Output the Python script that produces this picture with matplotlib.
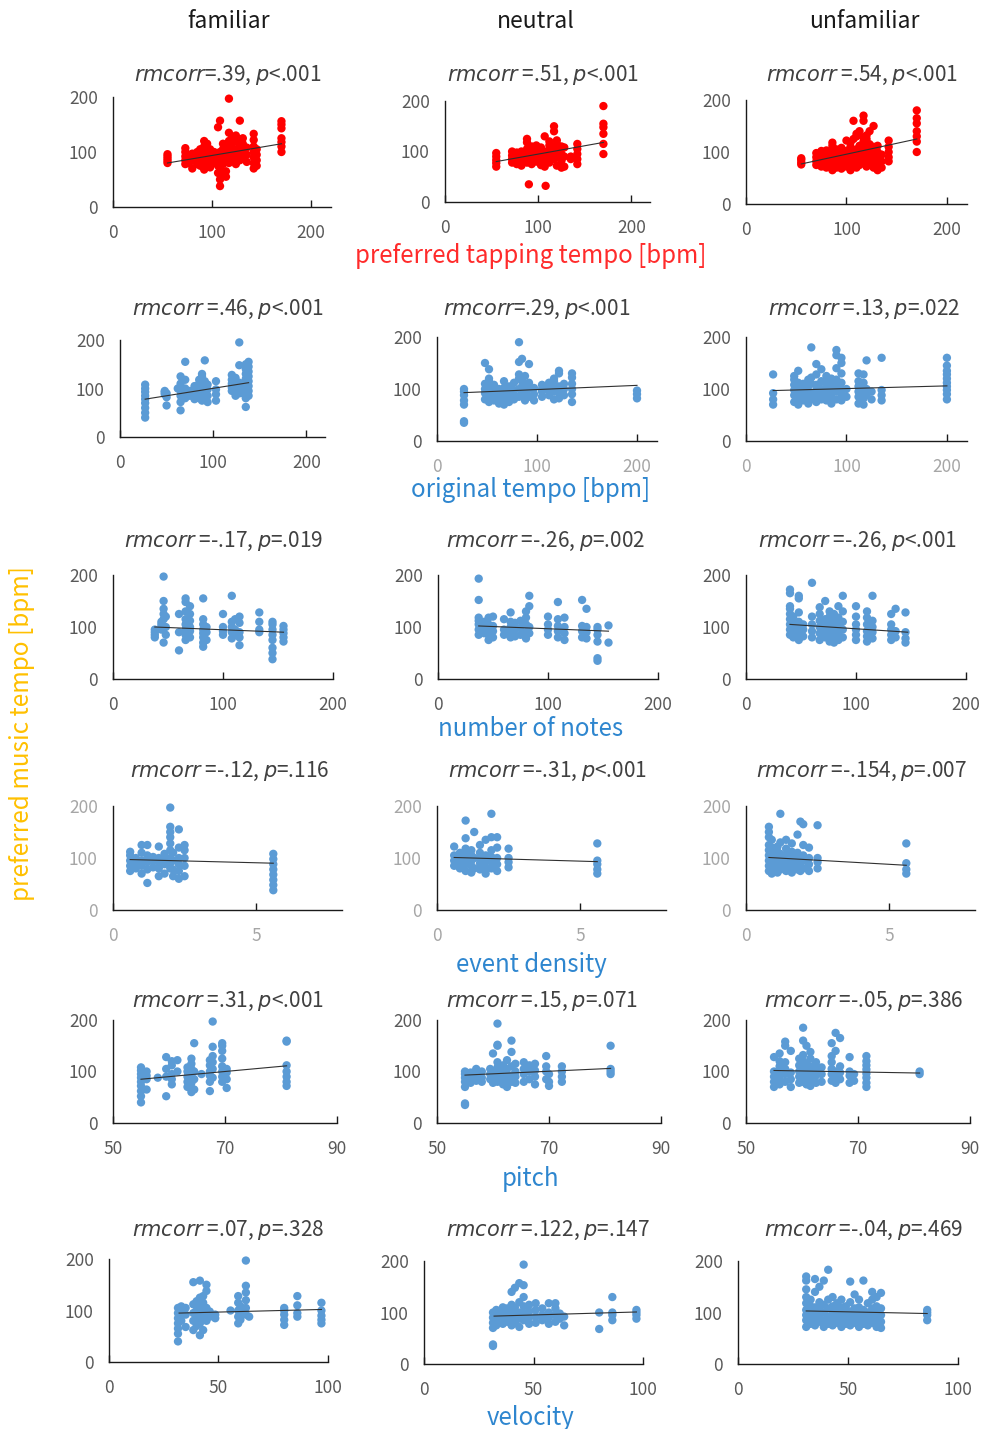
import matplotlib
matplotlib.use('Agg')
import matplotlib.pyplot as plt

plt.rcParams['font.family'] = ['Noto Sans CJK JP', 'DejaVu Sans']
plt.rcParams['mathtext.fontset'] = 'dejavusans'

# [1. text and axis settings]
columns = ['familiar', 'neutral', 'unfamiliar']
features = ['preferred tapping tempo [bpm]', 'original tempo [bpm]', 'number of notes',
            'event density', 'pitch', 'velocity']
feature_colors = ['#FF2B2B', '#2E86CF', '#2E86CF', '#2E86CF', '#2E86CF', '#2E86CF']
point_colors = ['#FF0000', '#5B9BD5', '#5B9BD5', '#5B9BD5', '#5B9BD5', '#5B9BD5']
x_ticks = [[0, 100, 200], [0, 100, 200], [0, 100, 200], [0, 5], [50, 70, 90], [0, 50, 100]]
x_limits = [(0, 220), (0, 220), (0, 200), (0, 8), (50, 90), (0, 100)]
y_ticks = [0, 100, 200]

r_text = [['=.39', ' =.51', ' =.54'],
          [' =.46', '=.29', ' =.13'],
          [' =-.17', ' =-.26', ' =-.26'],
          [' =-.12', ' =-.31', ' =-.154'],
          [' =.31', ' =.15', ' =-.05'],
          [' =.07', ' =.122', ' =-.04']]
p_text = [['<.001', '<.001', '<.001'],
          ['<.001', '<.001', '=.022'],
          ['=.019', '=.002', '<.001'],
          ['=.116', '<.001', '=.007'],
          ['<.001', '=.071', '=.386'],
          ['=.328', '=.147', '=.469']]

# [2. data: (x, [preferred music tempo values])]
tap_fam = [
    (55, [80, 84, 88, 92, 96]), (73, [78, 85, 92, 100, 107]), (76, [80, 88, 95]),
    (80, [70, 84, 90, 97]), (85, [78, 85, 92, 100]), (88, [75, 82, 90, 97, 105]),
    (92, [68, 75, 85, 95, 110, 120]), (95, [80, 88, 100, 115]), (98, [72, 85, 95, 105]),
    (102, [80, 90, 100]), (106, [62, 75, 88, 98, 145]), (108, [38, 50, 60, 72, 85, 100, 157]),
    (111, [78, 90, 105, 115]), (114, [55, 65, 85, 100, 112]), (117, [80, 95, 108, 120, 135, 197]),
    (120, [85, 100, 115, 125]), (124, [78, 92, 105, 120, 130]), (128, [85, 100, 110, 157]),
    (131, [88, 100, 115, 125]), (135, [82, 95, 108]), (142, [70, 80, 90, 100, 110, 122, 133]),
    (145, [75, 85, 95, 105]), (170, [100, 110, 118, 125, 143, 150, 156]),
]
tap_neu = [
    (55, [70, 77, 83, 90, 97]), (72, [78, 85, 92, 100]), (77, [75, 83, 90, 98]),
    (82, [72, 80, 88, 95, 100]), (88, [78, 85, 95, 105, 118, 125]), (90, [35]),
    (93, [75, 82, 90, 100, 110]), (98, [80, 88, 95, 105, 112]), (103, [73, 85, 95, 108]),
    (107, [70, 80, 92, 100, 130]), (108, [32]), (112, [78, 90, 100, 112, 120]),
    (117, [85, 95, 105, 140, 150]), (120, [72, 88, 100, 115, 122]), (125, [68, 82, 95, 110]),
    (128, [70, 90, 108]), (135, [85, 90]), (142, [75, 85, 95, 105, 115]),
    (170, [95, 115, 135, 148, 155, 190]),
]
tap_unf = [
    (55, [76, 80, 85, 88]), (70, [75, 82, 90, 98]), (75, [72, 80, 88, 95, 102]),
    (80, [70, 78, 86, 95, 103]), (86, [65, 73, 82, 90, 100, 112, 118]), (90, [70, 78, 88, 96, 105]),
    (95, [68, 76, 85, 95, 108]), (100, [72, 82, 92, 102, 122]), (104, [65, 75, 88, 98, 110, 118]),
    (107, [72, 85, 100, 125, 160]), (110, [70, 80, 92, 105, 130, 135]), (113, [75, 88, 100, 112, 140]),
    (117, [80, 95, 108, 120, 128, 160, 170]), (120, [72, 85, 98, 110, 125, 132]),
    (123, [78, 90, 102, 115, 140]), (127, [70, 85, 95, 110, 150]), (131, [65, 78, 90, 100, 112]),
    (135, [70, 82, 95]), (142, [82, 90, 100, 110, 122]), (170, [100, 120, 130, 140, 155, 165, 180]),
]

orig_fam = [
    (27, [40, 50, 60, 70, 78, 85, 93, 100, 108]), (48, [88, 92, 95]), (50, [65, 82, 90]),
    (62, [100]), (65, [55, 72, 85, 95, 110, 125]), (70, [80, 92, 100, 118, 155]), (75, [85, 95]),
    (80, [78, 88, 96, 105]), (85, [80, 90, 98, 110, 118]), (88, [75, 85, 95, 105, 125, 130]),
    (91, [80, 92, 100, 115, 158]), (94, [72, 85, 98, 108]), (103, [75, 88, 98, 115]),
    (120, [95, 102, 110, 118, 128]), (124, [85, 100, 108, 122]), (128, [90, 100, 112, 148, 195]),
    (132, [90, 100, 110]), (135, [62, 80, 90, 100, 110, 120, 130, 140, 150]),
    (138, [85, 95, 105, 115, 125, 135, 145, 155]),
]
orig_neu = [
    (27, [35, 38, 70, 78, 88, 95, 100]), (48, [80, 92, 100, 110, 150]),
    (52, [75, 85, 95, 105, 115, 120, 138]), (57, [78, 88, 98, 108]), (62, [72, 82, 92, 100]),
    (67, [70, 80, 90, 102, 115]), (72, [75, 85, 95, 105]), (77, [80, 88, 98, 112]),
    (82, [85, 100, 120, 128, 152, 190]), (85, [90, 105, 115, 158]), (88, [78, 95, 108, 125]),
    (92, [85, 100, 112, 148]), (97, [78, 90, 102]), (105, [85, 95, 100, 108]),
    (112, [88, 98, 105, 112]), (117, [80, 95, 100, 115, 120]), (122, [82, 92, 105, 130, 135]),
    (127, [88, 100, 110]), (135, [75, 90, 100, 110, 122, 130]), (200, [82, 90, 97]),
]
orig_unf = [
    (27, [70, 80, 92, 128]), (48, [75, 88, 98, 108, 118, 125]), (52, [70, 82, 92, 102, 112, 135]),
    (57, [78, 90, 100, 110]), (62, [72, 85, 95, 105, 118]), (65, [80, 92, 110, 122, 180]),
    (70, [75, 88, 98, 108, 128, 148]), (75, [80, 92, 100, 115, 138]), (80, [78, 90, 102, 112, 125]),
    (85, [72, 85, 98, 108, 120]), (90, [80, 95, 105, 118, 140, 165, 175]),
    (95, [78, 90, 100, 112, 130, 150, 160]), (100, [85, 100]), (112, [72, 85, 95, 105, 115, 130]),
    (117, [70, 82, 92, 102, 112, 128]), (120, [88, 100, 155]), (125, [80, 95]),
    (135, [78, 88, 98, 160]), (200, [80, 90, 98, 105, 112, 120, 128, 135, 145, 160]),
]

notes_fam = [
    (38, [80, 85, 90, 95]), (44, [95, 100, 105, 110]), (46, [70, 115, 125, 135, 150, 197]),
    (48, [85, 100, 120]), (60, [55, 90, 125]), (66, [75, 85, 95, 105, 115, 130, 148, 155]),
    (70, [80, 92, 100, 112, 125, 140]), (82, [62, 70, 80, 88, 95, 105, 115, 155]),
    (85, [75, 90, 100]), (100, [85, 92, 100, 125]), (108, [78, 90, 100, 110, 160]),
    (111, [85, 95, 115]), (115, [65, 80, 90, 108, 120]), (133, [90, 95, 110, 128]),
    (145, [38, 50, 60, 75, 85, 95, 105, 110]), (155, [72, 80, 88, 95, 102]),
]
notes_neu = [
    (37, [85, 95, 105, 112, 118, 152, 193]), (42, [88, 98, 110]), (46, [75, 85, 95, 105, 118]),
    (50, [80, 92, 102, 120]), (60, [85, 95, 115]), (66, [80, 90, 100, 110, 128]),
    (70, [82, 95, 108]), (75, [85, 98, 112]), (80, [78, 90, 105, 118, 130]),
    (83, [88, 100, 140, 160]), (100, [85, 95, 105, 120]), (109, [80, 92, 102, 115, 148]),
    (115, [75, 88, 100, 118]), (131, [80, 92, 102, 152]), (135, [78, 90, 100, 135]),
    (145, [35, 40, 72, 85, 95, 100]), (155, [70, 103]),
]
notes_unf = [
    (40, [85, 95, 105, 115, 125, 135, 140, 165, 172]), (43, [80, 90, 100, 110, 120]),
    (48, [75, 88, 98, 110, 128, 155, 160]), (52, [82, 95, 105]), (60, [80, 92, 105, 120, 185]),
    (67, [75, 88, 100, 112, 125, 138]), (72, [80, 92, 102, 115, 150]),
    (76, [72, 85, 95, 108, 120, 130]), (80, [70, 80, 90, 100, 110, 125]),
    (84, [75, 88, 98, 108, 118, 140]), (88, [80, 95, 110, 130, 160]),
    (100, [75, 85, 95, 105, 120, 140]), (110, [72, 82, 92, 105, 118, 130]),
    (115, [78, 90, 100, 112, 160]), (132, [75, 85, 95, 105, 125]), (136, [80, 92, 135]),
    (145, [70, 78, 90, 128]),
]

density_fam = [
    (0.6, [75, 85, 95, 105, 112]), (0.8, [80, 90, 100]), (1.0, [70, 85, 95, 110, 125]),
    (1.2, [52, 78, 92, 105, 125]), (1.4, [82, 95, 102]), (1.6, [65, 80, 92, 100, 122]),
    (1.8, [70, 88, 98, 108]), (2.0, [80, 90, 100, 115, 128, 140, 150, 160, 197]),
    (2.1, [65, 78, 95, 110]), (2.3, [60, 75, 88, 100, 120, 155]), (2.5, [65, 85, 100, 115, 125]),
    (5.6, [38, 48, 58, 68, 78, 88, 98, 108]),
]
density_neu = [
    (0.6, [85, 95, 105, 122]), (0.8, [80, 92, 100, 110]), (1.0, [75, 88, 98, 108, 118, 138, 172]),
    (1.2, [72, 85, 95, 105, 115]), (1.3, [80, 100, 150]), (1.5, [78, 90, 100, 110, 125]),
    (1.7, [70, 82, 95, 105, 135]), (1.9, [80, 92, 102, 115, 140, 185]),
    (2.1, [75, 88, 100, 120, 140]), (2.5, [82, 92, 100, 118]), (5.6, [70, 78, 88, 95, 128]),
]
density_unf = [
    (0.8, [75, 85, 95, 105, 115, 125, 140, 150, 160]), (0.9, [70, 80, 90, 100, 110, 120, 135]),
    (1.1, [72, 82, 92, 102, 112, 122]), (1.2, [78, 88, 98, 108, 130, 185]),
    (1.4, [75, 85, 95, 105, 118, 135]), (1.6, [72, 82, 92, 102, 112, 128]),
    (1.8, [78, 90, 100, 110, 145]), (1.9, [75, 88, 98, 170]), (2.0, [80, 95, 105, 125, 165]),
    (2.2, [75, 88, 100, 120]), (2.5, [80, 92, 100, 163]), (5.6, [70, 78, 90, 128]),
]

pitch_fam = [
    (55, [40, 52, 62, 72, 80, 88, 95, 102, 108]), (56, [65, 85, 92, 100]), (58, [88]),
    (59.5, [52, 90, 105, 128]), (60.5, [75, 85, 95, 112, 120]), (61.5, [100, 122]),
    (63.3, [70, 80, 90, 100, 108]), (64, [60, 68, 78, 88, 95, 105, 115, 125]),
    (64.5, [65, 85, 100, 155]), (65.8, [95]), (67.3, [62, 80, 92, 100, 112, 122]),
    (67.8, [88, 105, 118, 130, 148, 197]), (69.5, [80, 90, 100, 110, 125, 140, 150, 155]),
    (70.3, [68, 85, 98, 105]), (81, [72, 80, 90, 100, 112, 158, 160]),
]
pitch_neu = [
    (55, [35, 38, 70, 80, 88, 95, 100]), (56, [78, 90, 98]), (57, [82, 95, 105]),
    (58, [80, 88, 100]), (59.5, [85, 95, 105]), (60, [78, 90, 100, 135]),
    (60.8, [80, 95, 108, 118, 150, 152, 193]), (61.8, [75, 88, 100, 112]),
    (62.5, [70, 85, 95, 105, 122]), (63.3, [80, 92, 110, 138, 160]), (64, [78, 90, 100, 115]),
    (65.5, [80, 95, 105, 118]), (66.5, [85, 100, 112]), (67.5, [75, 90, 102, 115]),
    (69.5, [85, 100, 110, 130]), (70, [72, 80, 95]), (72.3, [80, 90, 100, 110]),
    (81, [95, 100, 105, 150]),
]
pitch_unf = [
    (55, [70, 80, 90, 100, 128]), (56, [75, 88, 100, 110, 120, 135]),
    (57, [80, 95, 105, 118, 150, 158]), (58, [70, 85, 98, 140]), (59.5, [78, 90, 100, 112, 125]),
    (60.2, [80, 95, 108, 120, 132, 160, 185]), (60.8, [75, 88, 100, 115, 150]),
    (61.5, [72, 85, 98, 110, 125, 138]), (62.5, [78, 92, 105, 118]), (63.5, [80, 95, 108]),
    (65.3, [82, 95, 105, 118, 130, 155]), (66, [78, 92, 100, 140, 175]),
    (66.8, [85, 98, 110, 165]), (68.5, [78, 92, 100, 128]), (69.3, [82, 95]),
    (71.5, [70, 78, 88, 96, 104, 112, 120, 130]), (81, [95, 100]),
]

velocity_fam = [
    (31.5, [40, 55, 65, 75, 85, 95, 105]), (33, [80, 90, 100, 108]), (35, [68, 92, 105]),
    (38.5, [62, 80, 95, 112, 155]), (40, [70, 85, 100, 118]), (41.5, [52, 75, 92, 108, 125, 158]),
    (43, [62, 82, 98, 115, 128]), (44.5, [80, 92, 105, 138, 150]), (46, [88, 98]),
    (48.5, [85, 92]), (55.5, [100]), (59, [75, 88, 100, 115, 128]), (60, [82, 95, 108]),
    (62.5, [92, 105, 120, 135, 148, 197]), (64, [88]), (80, [72, 82, 92, 100, 105]),
    (86, [88, 95, 110, 128]), (97, [75, 82, 90, 100, 115]),
]
velocity_neu = [
    (31.5, [35, 38, 70, 80, 90, 100]), (33, [75, 85, 95, 105]), (36, [78, 90, 100, 110]),
    (38, [82, 95, 108]), (40, [75, 88, 100, 115, 140]), (41.5, [80, 95, 110, 148]),
    (43.5, [72, 88, 100, 120, 157]), (45.5, [85, 98, 112, 130, 153, 193]),
    (48, [78, 90, 102, 115]), (51, [80, 92, 105, 118]), (54, [85, 95, 108]),
    (57, [78, 90, 100, 118]), (60, [82, 95, 108, 118]), (62, [88, 98]), (64, [75, 92]),
    (80, [68, 100]), (86, [85, 95, 100, 130]), (97, [88, 95, 100, 105]),
]
velocity_unf = [
    (31, [72, 85, 95, 105, 118, 130, 145, 162, 170]), (33, [78, 90, 100, 112, 125]),
    (35, [75, 88, 98, 110, 140, 165]), (37, [82, 95, 105, 120, 150]), (39, [72, 85, 100, 115, 162]),
    (41, [78, 92, 108, 125, 183]), (43, [75, 88, 100, 112, 130]), (45, [80, 95, 105, 118]),
    (47, [72, 85, 98, 110, 125]), (49, [78, 90, 100, 112]), (51, [75, 88, 102, 120, 160]),
    (53, [80, 95, 108, 135]), (55, [72, 85, 98, 110, 125]), (57, [78, 92, 105, 162]),
    (59, [75, 88, 100, 118]), (61, [80, 95, 108, 125, 140]), (63, [72, 85, 98, 112, 130]),
    (65, [70, 82, 95, 108, 138]), (86, [85, 95, 100, 105]),
]

# rmcorr fit lines: ([x start, x end], [y start, y end])
fits = [
    [([55, 170], [80, 115]), ([55, 170], [80, 118]), ([55, 170], [77, 125])],
    [([27, 138], [78, 112]), ([27, 200], [93, 107]), ([27, 200], [97, 106])],
    [([38, 155], [100, 90]), ([37, 155], [102, 92]), ([40, 147], [105, 90])],
    [([0.6, 5.6], [97, 90]), ([0.6, 5.6], [101, 93]), ([0.8, 5.6], [101, 86])],
    [([55, 81], [85, 111]), ([55, 81], [93, 106]), ([55, 81], [102, 97])],
    [([32, 97], [95, 102]), ([32, 97], [93, 101]), ([31, 86], [103, 98])],
]

panels = [
    [tap_fam, tap_neu, tap_unf],
    [orig_fam, orig_neu, orig_unf],
    [notes_fam, notes_neu, notes_unf],
    [density_fam, density_neu, density_unf],
    [pitch_fam, pitch_neu, pitch_unf],
    [velocity_fam, velocity_neu, velocity_unf],
]

# [3. layout in pixels: (left, right, top, bottom) of each plot area]
W, H = 981, 1429
boxes = [
    [(113, 331, 97, 207), (445, 650, 101, 202), (746, 967, 100, 204)],
    [(120, 325, 340, 437), (437, 657, 337, 441), (746, 967, 337, 441)],
    [(113, 333, 575, 679), (438, 658, 575, 679), (746, 966, 575, 679)],
    [(113, 342, 806, 910), (437, 666, 806, 910), (746, 975, 806, 910)],
    [(113, 337, 1020, 1123), (437, 661, 1020, 1123), (746, 970, 1020, 1123)],
    [(109, 328, 1259, 1362), (424, 643, 1261, 1364), (738, 958, 1261, 1364)],
]
title_pos = [
    [(228, 75), (543, 75), (862, 75)],
    [(228, 309), (537, 309), (864, 309)],
    [(224, 541), (546, 541), (858, 541)],
    [(230, 771), (548, 771), (862, 771)],
    [(228, 1001), (542, 1001), (864, 1001)],
    [(228, 1230), (548, 1230), (864, 1230)],
]
feature_y = [256, 490, 729, 965, 1179, 1418]


def draw_panel(ax, groups, fit, row, col):
    xs = [x for x, ys in groups for _ in ys]
    ys = [y for x, yl in groups for y in yl]
    ax.scatter(xs, ys, s=36, color=point_colors[row], edgecolors='none', clip_on=False, zorder=2)
    ax.plot(fit[0], fit[1], color='#303030', linewidth=0.8, zorder=3)
    ax.set_xlim(*x_limits[row])
    ax.set_ylim(0, 200)
    ax.set_xticks(x_ticks[row])
    ax.set_yticks(y_ticks)
    for side in ['top', 'right']:
        ax.spines[side].set_visible(False)
    for side in ['left', 'bottom']:
        ax.spines[side].set_color('#1a1a1a')
        ax.spines[side].set_linewidth(1.0)
    ax.set_facecolor('none')
    light = row == 3
    xc = '#a6a6a6' if (light or (row == 1 and col > 0)) else '#595959'
    yc = '#a6a6a6' if light else '#595959'
    ax.tick_params(axis='x', direction='in', length=5, width=1.0, color='#1a1a1a',
                   labelsize=12.5, labelcolor=xc, pad=12)
    ax.tick_params(axis='y', length=0, labelsize=12.5, labelcolor=yc, pad=11)


fig = plt.figure(figsize=(W / 100, H / 100), dpi=100)

for c, name in enumerate(columns):
    fig.text([228, 536, 864][c] / W, 1 - 22 / H, name, ha='center', va='center',
             fontsize=16.5, color='#1a1a1a')

for r in range(6):
    for c in range(3):
        l, rt, t, b = boxes[r][c]
        ax = fig.add_axes([l / W, 1 - b / H, (rt - l) / W, (b - t) / H])
        draw_panel(ax, panels[r][c], fits[r][c], r, c)
        tx, ty = title_pos[r][c]
        title = r'$\mathit{rmcorr}$' + r_text[r][c] + ', ' + r'$\mathit{p}$' + p_text[r][c]
        fig.text(tx / W, 1 - ty / H, title, ha='center', va='center', fontsize=15, color='#404040')
    fig.text(531 / W, 1 - feature_y[r] / H, features[r], ha='center', va='center',
             fontsize=17.3, color=feature_colors[r])

fig.text(22 / W, 1 - 734 / H, 'preferred music tempo [bpm]', rotation=90, ha='center', va='center',
         fontsize=17.5, color='#FFC000')

fig.savefig('out.png', dpi=100)
